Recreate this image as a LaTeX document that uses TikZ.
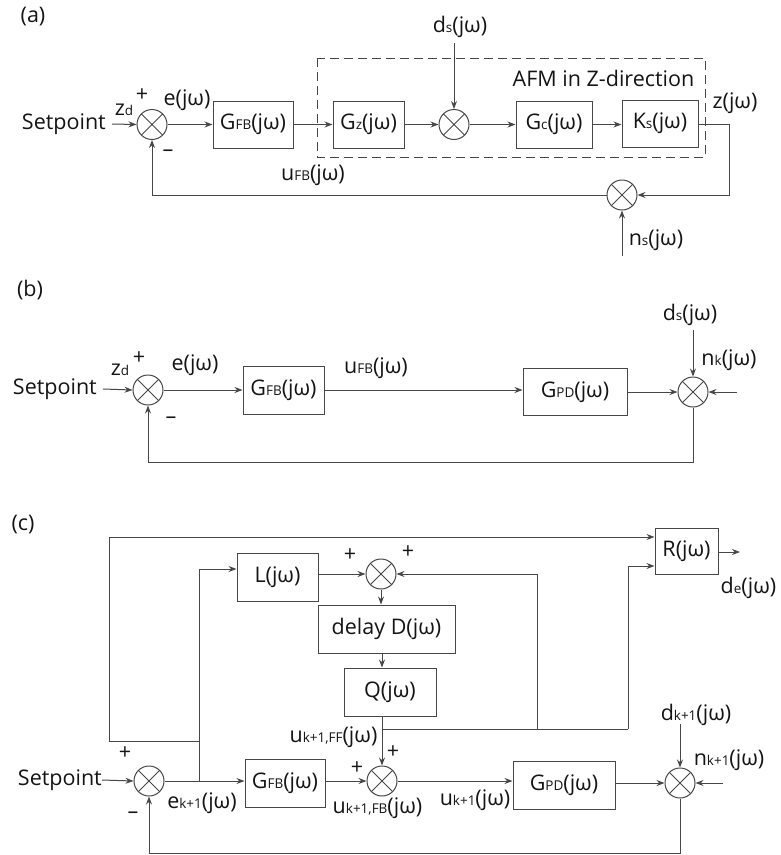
\documentclass[tikz,border=0pt]{standalone}
\usepackage{fontspec}
\setmainfont{Open Sans}
\usetikzlibrary{arrows.meta}
\colorlet{lncol}{black!72}
\newcommand\sbx[1]{{\fontsize{13.5}{14}\selectfont #1}}
\begin{document}
\begin{tikzpicture}[x=1pt,y=-1pt,
  every node/.style={text=black!92, font=\fontsize{21.5}{23}\selectfont, inner sep=0pt},
  blk/.style={draw=lncol, line width=1pt, minimum height=47, anchor=center},
  sumj/.style={circle, draw=lncol, line width=1pt, minimum size=30,
    path picture={\draw[lncol,line width=0.75pt] (path picture bounding box.north west)--(path picture bounding box.south east)
      (path picture bounding box.north east)--(path picture bounding box.south west);}},
  ar/.style={draw=lncol, line width=1pt, -{Stealth[length=8pt,width=6pt]}},
  wire/.style={draw=lncol, line width=1pt},
]
\useasboundingbox (0,0) rectangle (780,855);

% ---------------- (a) ----------------
\node (la) at (33,17) {(a)};
\node[anchor=east] (spa) at (106,124) {Setpoint};
\node[sumj] (s1a) at (152,124.5) {};
\node[blk, minimum width=80] (gfba) at (253,124.5) {G\sbx{FB}(jω)};
\node[blk, minimum width=71] (gza) at (368.5,124.5) {G\sbx{z}(jω)};
\node[sumj] (s2a) at (454,124.5) {};
\node[blk, minimum width=76] (gca) at (554,124.5) {G\sbx{c}(jω)};
\node[blk, minimum width=76] (ksa) at (660,123.5) {K\sbx{s}(jω)};
\node[sumj] (s3a) at (622,195) {};
\draw[dashed, dash pattern=on 9pt off 5pt, draw=lncol, line width=0.9pt] (317,58) rectangle (705,157);
\node (afm) at (603.5,78) {AFM in Z-direction};
\node (zda) at (124,110) {z\sbx{d}};
\node (pa) at (142,95) {+};
\node (ma) at (168,153) {–};
\node (ea) at (187,100) {e(jω)};
\node (ufba) at (313,175) {u\sbx{FB}(jω)};
\node (dsa) at (460,27) {d\sbx{s}(jω)};
\node (za) at (735,103) {z(jω)};
\node (nsa) at (656,240) {n\sbx{s}(jω)};
\coordinate (ca1) at (729,124.5);
\coordinate (ca2) at (454,43);
\coordinate (ca3) at (622,256);
\draw[ar] ([xshift=6]spa.east) -- (s1a.west);
\draw[ar] (s1a.east) -- (gfba.west);
\draw[ar] (gfba.east) -- (gza.west);
\draw[ar] (gza.east) -- (s2a.west);
\draw[ar] (ca2) -- (s2a.north);
\draw[ar] (s2a.east) -- (gca.west);
\draw[ar] (gca.east) -- (gca.east -| ksa.west);
\draw[ar] (ksa.east |- ca1) -- (ca1) |- (s3a.east);
\draw[ar] (ca3) -- (s3a.south);
\draw[ar] (s3a.west) -| (s1a.south);

% ---------------- (b) ----------------
\node (lb) at (30,290) {(b)};
\node[anchor=east] (spb) at (97,389) {Setpoint};
\node[sumj] (s1b) at (148,390) {};
\node[blk, minimum width=81, minimum height=48] (gfbb) at (283.5,390) {G\sbx{FB}(jω)};
\node[blk, minimum width=104] (gpdb) at (575,392) {G\sbx{PD}(jω)};
\node[sumj] (s2b) at (693,392) {};
\node (zdb) at (120,370) {z\sbx{d}};
\node (pb) at (139,358) {+};
\node (mb) at (171,420) {–};
\node (eb) at (195,365) {e(jω)};
\node (ufbb) at (376,368) {u\sbx{FB}(jω)};
\node (dsb) at (690,315) {d\sbx{s}(jω)};
\node (nkb) at (729,360) {n\sbx{k}(jω)};
\coordinate (cb1) at (693,330);
\coordinate (cb2) at (737,392);
\coordinate (cb3) at (693,462);
\draw[ar] ([xshift=6]spb.east) -- (s1b.west);
\draw[ar] (s1b.east) -- (gfbb.west);
\draw[ar] (gfbb.east) -- (gfbb.east -| gpdb.west);
\draw[ar] (gpdb.east) -- (s2b.west);
\draw[ar] (cb1) -- (s2b.north);
\draw[ar] (cb2) -- (s2b.east);
\draw[ar] (s2b.south) -- (cb3) -| (s1b.south);

% ---------------- (c) ----------------
\node (lc) at (23,525) {(c)};
\node[anchor=east] (spc) at (102,780) {Setpoint};
\node[sumj] (s1c) at (149,781) {};
\node[blk, minimum width=80, minimum height=48] (gfbc) at (285,783) {G\sbx{FB}(jω)};
\node[sumj] (s2c) at (382,781) {};
\node[blk, minimum width=102, minimum height=48] (gpdc) at (564,785) {G\sbx{PD}(jω)};
\node[sumj] (s3c) at (680,783) {};
\node[blk, minimum width=81, minimum height=48] (lbox) at (277.5,577) {L(jω)};
\node[sumj] (sLc) at (381,574) {};
\node[blk, minimum width=137, minimum height=48] (dbox) at (386.5,629) {delay D(jω)};
\node[blk, minimum width=92, minimum height=48] (qbox) at (390,692) {Q(jω)};
\node[blk, minimum width=63, minimum height=46] (rbox) at (686.5,551) {R(jω)};

\node (p1c) at (125,753) {+};
\node (m1c) at (133,815) {–};
\node (ekc) at (202,803) {e\sbx{k+1}(jω)};
\node (ufbc) at (377.5,808) {u\sbx{k+1,FB}(jω)};
\node (ukc) at (475,800) {u\sbx{k+1}(jω)};
\node (uffc) at (333.5,737) {u\sbx{k+1,FF}(jω)};
\node (p2c) at (393,752) {+};
\node (p3c) at (357,768) {+};
\node (p4c) at (350,555) {+};
\node (p5c) at (408,552) {+};
\node (dkc) at (696,715) {d\sbx{k+1}(jω)};
\node (nkc) at (729,760) {n\sbx{k+1}(jω)};
\node (dec) at (748.5,588) {d\sbx{e}(jω)};

\coordinate (c1) at (199,781);
\coordinate (c2) at (199,569);
\coordinate (c3) at (199,741);
\coordinate (c4) at (109,741);
\coordinate (c5) at (109,537);
\coordinate (c6) at (382,729);
\coordinate (c7) at (628,729);
\coordinate (c8) at (628,566);
\coordinate (c9) at (537,729);
\coordinate (c10) at (537,574);
\coordinate (c11) at (680,724);
\coordinate (c12) at (723,783);
\coordinate (c13) at (680,853);
\coordinate (c14) at (740,552);

\draw[ar] (spc.east) -- (s1c.west);
\draw[ar] (s1c.east) -- (s1c.east -| gfbc.west);
\draw[ar] (gfbc.east |- s2c) -- (s2c.west);
\draw[ar] (s2c.east) -- (s2c.east -| gpdc.west);
\draw[ar] (gpdc.east |- s3c) -- (s3c.west);
\draw[ar] (c11) -- (s3c.north);
\draw[ar] (c12) -- (s3c.east);
\draw[ar] (s3c.south) -- (c13) -| (s1c.south);
\draw[ar] (c1) -- (c2) -- (c2 -| lbox.west);
\draw[wire] (c3) -- (c4) -- (c5);
\draw[ar] (c5) -- (c5 -| rbox.west);
\draw[ar] (lbox.east |- sLc) -- (sLc.west);
\draw[ar] (sLc.south) -- (sLc.south |- dbox.north);
\draw[ar] (dbox.south -| s2c) -- (qbox.north -| s2c);
\draw[ar] (qbox.south -| s2c) -- (s2c.north);
\draw[wire] (c6) -- (c7);
\draw[ar] (c7) -- (c8) -- (c8 -| rbox.west);
\draw[ar] (c9) -- (c10) -- (sLc.east);
\draw[ar] (rbox.east |- c14) -- (c14);
\end{tikzpicture}
\end{document}
